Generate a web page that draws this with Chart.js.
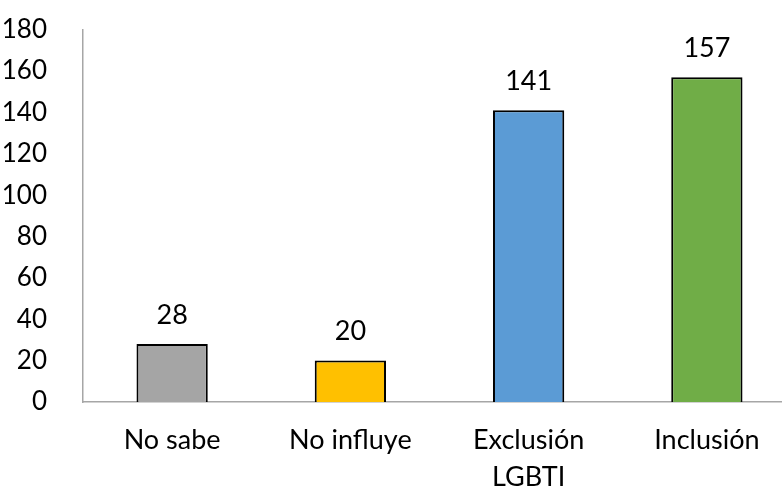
<!DOCTYPE html>
<html lang="es">
<head>
    <meta charset="UTF-8">
    <title>Exclusión / Inclusión</title>
    <script src="https://cdn.jsdelivr.net/npm/chart.js"></script>
    <style>
        html, body { margin: 0; padding: 0; background: #fff; overflow: hidden; }
        .wrap { width: 796px; height: 514px; margin-top: -14px; }
    </style>
</head>
<body>
    <div class="wrap"><canvas id="barChart"></canvas></div>

    <script>
        const categories = ["No sabe", "No influye", ["Exclusión", "LGBTI"], "Inclusión"];
        const counts = [28, 20, 141, 157];
        const barColors = ["#A5A5A5", "#FFC000", "#5B9BD5", "#70AD47"];
        const yTicks = [0, 20, 40, 60, 80, 100, 120, 140, 160, 180];

        const fontFamily = "Lato, 'Noto Sans', sans-serif";
        const fontSize = 27;

        // values above each bar
        const valueLabels = {
            id: "valueLabels",
            afterDatasetsDraw(chart) {
                const ctx = chart.ctx;
                const meta = chart.getDatasetMeta(0);
                ctx.save();
                ctx.font = fontSize + "px " + fontFamily;
                ctx.fillStyle = "#000";
                ctx.textAlign = "center";
                ctx.textBaseline = "middle";
                meta.data.forEach((bar, i) => {
                    ctx.fillText(counts[i], bar.x, bar.y - 29);
                });
                ctx.restore();
            }
        };

        new Chart(document.getElementById("barChart"), {
            type: "bar",
            data: {
                labels: categories,
                datasets: [{
                    data: counts,
                    backgroundColor: barColors,
                    borderColor: "#000",
                    borderWidth: 2,
                    borderSkipped: "bottom",
                    categoryPercentage: 1,
                    barPercentage: 0.4
                }]
            },
            options: {
                responsive: true,
                maintainAspectRatio: false,
                animation: false,
                layout: { padding: { top: 2, left: 0, right: 0, bottom: 0 } },
                plugins: { legend: { display: false }, tooltip: { enabled: false } },
                scales: {
                    x: {
                        afterFit(axis) { axis.height = 98; },
                        grid: { display: false },
                        border: { display: true, color: "#A6A6A6", width: 1.5 },
                        ticks: { color: "#000", padding: 11, font: { family: fontFamily, size: fontSize, lineHeight: 1.4 } }
                    },
                    y: {
                        min: 0,
                        max: 180,
                        afterFit(axis) { axis.width = 83; },
                        afterBuildTicks(axis) { axis.ticks = yTicks.map(v => ({ value: v })); },
                        grid: { display: false },
                        border: { display: true, color: "#A6A6A6", width: 1.5 },
                        ticks: { color: "#000", padding: 28, font: { family: fontFamily, size: 26 } }
                    }
                }
            },
            plugins: [valueLabels]
        });
    </script>
</body>
</html>
